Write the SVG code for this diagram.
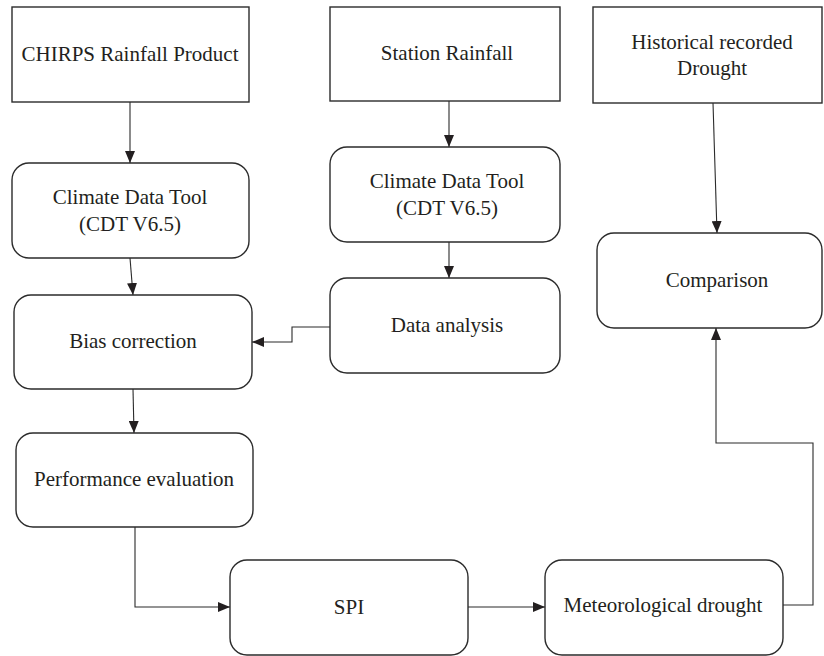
<svg xmlns="http://www.w3.org/2000/svg" width="824" height="656" viewBox="0 0 824 656">
<style>
.box{fill:#fff;stroke:#2b2b2b;stroke-width:1.4}
.lbl{font-family:"Liberation Serif","Times New Roman",serif;font-size:21px;fill:#231f20;text-anchor:middle}
.con{fill:none;stroke:#2b2b2b;stroke-width:1.1}
</style>
<defs>
<marker id="ah" markerUnits="userSpaceOnUse" markerWidth="12" markerHeight="10" refX="12" refY="5" orient="auto">
<path d="M0,0 L12,5 L0,10 z" fill="#231f20"/>
</marker>
</defs>
<rect width="824" height="656" fill="#fff"/>
<g id="connectors">
<path class="con" d="M130,102 L130,163" marker-end="url(#ah)"/>
<path class="con" d="M449,101 L449,147" marker-end="url(#ah)"/>
<path class="con" d="M449,242 L449,278" marker-end="url(#ah)"/>
<path class="con" d="M130,258 L133,295" marker-end="url(#ah)"/>
<path class="con" d="M330,327 H292 V342 H252" marker-end="url(#ah)"/>
<path class="con" d="M133,389 L134,433" marker-end="url(#ah)"/>
<path class="con" d="M135,527 V607 H230" marker-end="url(#ah)"/>
<path class="con" d="M468,607 H545" marker-end="url(#ah)"/>
<path class="con" d="M783,605 H813 V443 H716 V328" marker-end="url(#ah)"/>
<path class="con" d="M713,103 L717,233" marker-end="url(#ah)"/>
</g>
<g id="chirps"><rect class="box" x="12" y="7" width="237" height="95"/><text class="lbl" x="130" y="61">CHIRPS Rainfall Product</text></g>
<g id="station"><rect class="box" x="330" y="7" width="230" height="94"/><text class="lbl" x="447" y="60">Station Rainfall</text></g>
<g id="historical"><rect class="box" x="593" y="7" width="229" height="96"/><text class="lbl" x="712" y="49">Historical recorded</text><text class="lbl" x="712" y="75">Drought</text></g>
<g id="cdt1"><rect class="box" x="12" y="163" width="237" height="95" rx="17"/><text class="lbl" x="130" y="204">Climate Data Tool</text><text class="lbl" x="130" y="231">(CDT V6.5)</text></g>
<g id="cdt2"><rect class="box" x="330" y="147" width="230" height="95" rx="17"/><text class="lbl" x="447" y="188">Climate Data Tool</text><text class="lbl" x="447" y="215">(CDT V6.5)</text></g>
<g id="data"><rect class="box" x="330" y="278" width="230" height="95" rx="17"/><text class="lbl" x="447" y="332">Data analysis</text></g>
<g id="comparison"><rect class="box" x="597" y="233" width="225" height="95" rx="17"/><text class="lbl" x="717" y="287">Comparison</text></g>
<g id="bias"><rect class="box" x="14" y="295" width="238" height="94" rx="17"/><text class="lbl" x="133" y="348">Bias correction</text></g>
<g id="perf"><rect class="box" x="16" y="433" width="237" height="94" rx="17"/><text class="lbl" x="134" y="486">Performance evaluation</text></g>
<g id="spi"><rect class="box" x="230" y="560" width="238" height="95" rx="17"/><text class="lbl" x="349" y="614">SPI</text></g>
<g id="met"><rect class="box" x="545" y="560" width="238" height="95" rx="17"/><text class="lbl" x="663" y="612">Meteorological drought</text></g>
</svg>
